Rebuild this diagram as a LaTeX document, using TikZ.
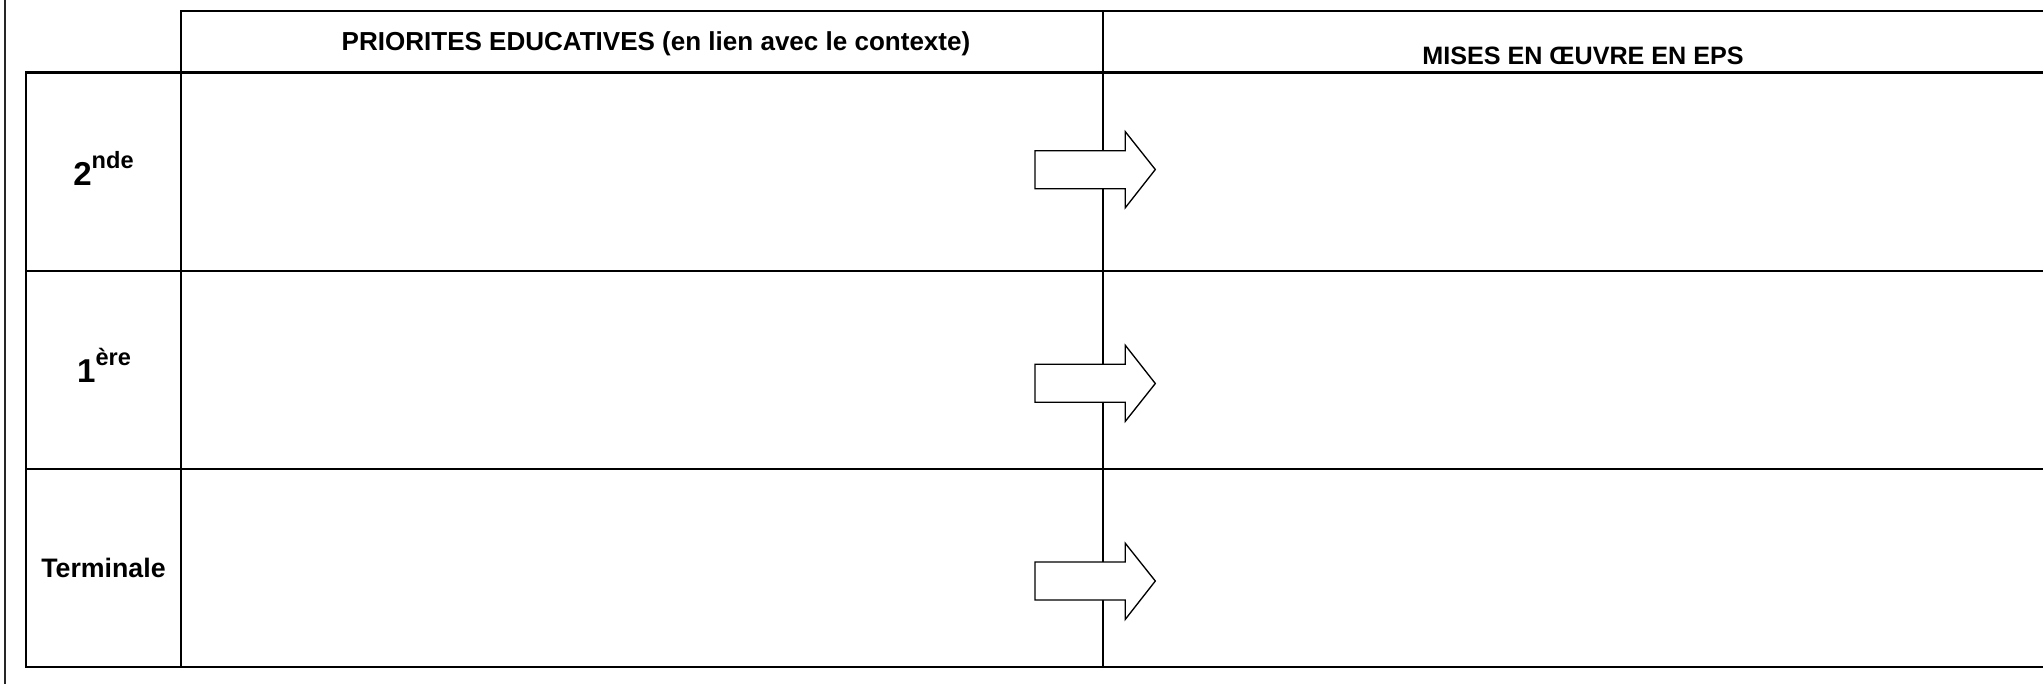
\documentclass[tikz,border=0pt]{standalone}
\usepackage{fontspec}
\setmainfont{Liberation Sans}
\begin{document}
\begin{tikzpicture}[x=0.01cm,y=-0.01cm,
  tbl/.style={line width=0.6pt, line cap=rect},
  sideline/.style={line width=0.55pt, black!85},
  arrowshape/.style={draw, line width=0.38pt, fill=white, line join=miter},
  hdr/.style={font=\bfseries\fontsize{7.15}{8.5}\selectfont, inner sep=0pt, anchor=base},
  hdrwide/.style={font=\bfseries\fontsize{7.4}{8.5}\selectfont, inner sep=0pt, anchor=base},
  lvl/.style={font=\bfseries\fontsize{9.4}{10}\selectfont, inner sep=0pt, anchor=base},
  lvlsmall/.style={font=\bfseries\fontsize{7.6}{8.5}\selectfont, inner sep=0pt, anchor=base}]
\newcommand{\supx}[1]{\raisebox{4.8pt}{\fontsize{6.7}{7}\selectfont #1}}
\useasboundingbox (0,0) rectangle (2043,684);
% grid coordinates
\coordinate (tl) at (26,72.5);
\coordinate (bl) at (26,667);
\coordinate (ht) at (181,11);
\coordinate (hb) at (181,667);
\coordinate (mt) at (1103,11);
\coordinate (mb) at (1103,667);
% left page rule
\draw[sideline] (5,0) -- (5,684);
% table
\draw[tbl] (ht) -- (2043,11);
\draw[tbl] (tl) -- (2043,72.5);
\draw[tbl] (26,271) -- (2043,271);
\draw[tbl] (26,469) -- (2043,469);
\draw[tbl] (bl) -- (2043,667);
\draw[tbl] (tl) -- (bl);
\draw[tbl] (ht) -- (hb);
\draw[tbl] (mt) -- (mb);
% arrows
\draw[arrowshape] (1035,150.7) -- (1125.3,150.7) -- (1125.3,131.7) -- (1155.3,169.5) -- (1125.3,207.7) -- (1125.3,188.7) -- (1035,188.7) -- cycle;
\draw[arrowshape] (1035,364.3) -- (1125.3,364.3) -- (1125.3,345.3) -- (1155.3,383.5) -- (1125.3,421.3) -- (1125.3,402.3) -- (1035,402.3) -- cycle;
\draw[arrowshape] (1035,562) -- (1125.3,562) -- (1125.3,543.3) -- (1155.3,581) -- (1125.3,619.3) -- (1125.3,600) -- (1035,600) -- cycle;
% texts
\node[hdrwide] (h1) at (656,50) {PRIORITES EDUCATIVES (en lien avec le contexte)};
\node[hdr] (h2) at (1583,64) {MISES EN ŒUVRE EN EPS};
\node[lvl] (r1) at (103.5,185) {2\supx{nde}};
\node[lvl] (r2) at (104,382) {1\supx{ère}};
\node[lvlsmall] (r3) at (103.5,577) {Terminale};
\end{tikzpicture}
\end{document}
